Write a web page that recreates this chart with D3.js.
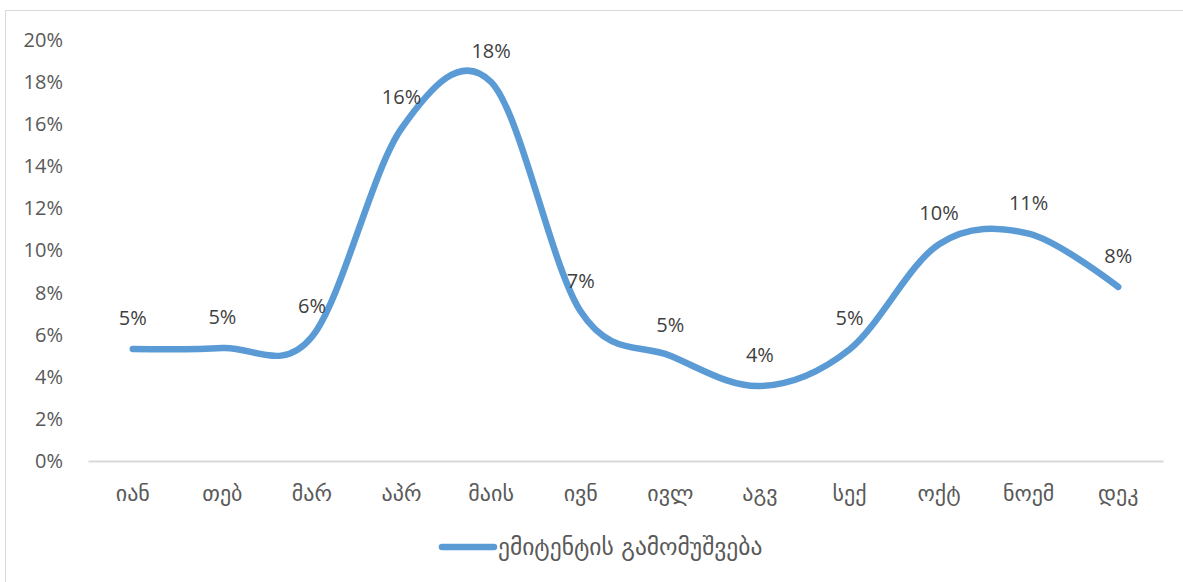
<!DOCTYPE html>
<html>
<head>
<meta charset="utf-8">
<script src="https://cdn.jsdelivr.net/npm/d3@7"></script>
<style>
  html, body { margin: 0; padding: 0; background: #fff; }
  svg { display: block; }
  text { font-family: "Open Sans", "DejaVu Sans", sans-serif; }
</style>
</head>
<body>
<svg id="chart" width="1183" height="582"></svg>
<script>
// Monthly output of the issuer, share per month
const months = ["იან", "თებ", "მარ", "აპრ", "მაის", "ივნ", "ივლ", "აგვ", "სექ", "ოქტ", "ნოემ", "დეკ"];
const values = [0.0532, 0.0537, 0.059, 0.158, 0.180, 0.071, 0.050, 0.0356, 0.053, 0.103, 0.108, 0.0827];
const yTicks = [0, 0.02, 0.04, 0.06, 0.08, 0.10, 0.12, 0.14, 0.16, 0.18, 0.20];
const seriesName = "ემიტენტის გამომუშვება";

const svg = d3.select("#chart");
const W = 1183, H = 582;
const plot = { left: 88, right: 1163, top: 40, bottom: 461 };

// Outer chart frame
svg.append("rect")
  .attr("x", 5.5).attr("y", 10.5)
  .attr("width", W + 10).attr("height", H + 10)
  .attr("fill", "#fff").attr("stroke", "#d9d9d9").attr("stroke-width", 1);

const x = d3.scaleBand().domain(months).range([plot.left, plot.right]);
const y = d3.scaleLinear().domain([0, 0.20]).range([plot.bottom, plot.top]);
const fmt = d3.format(".0%");

// Y axis labels (no line, no ticks)
const yAxis = svg.append("g")
  .attr("transform", `translate(${plot.left},0)`)
  .call(d3.axisLeft(y).tickValues(yTicks).tickFormat(fmt).tickSize(0).tickPadding(25));
yAxis.select(".domain").remove();
yAxis.selectAll("text")
  .attr("fill", "#595959").style("font-size", "20px")
  .style("font-family", "'Open Sans', 'DejaVu Sans', sans-serif");

// X axis: baseline plus category labels
const xAxis = svg.append("g")
  .attr("transform", `translate(0,${plot.bottom})`)
  .call(d3.axisBottom(x).tickSize(0).tickPadding(24));
xAxis.select(".domain").attr("stroke", "#d9d9d9").attr("stroke-width", 2);
xAxis.selectAll("text")
  .attr("fill", "#595959").style("font-size", "22px")
  .style("font-family", "'DejaVu Sans', sans-serif");

const pts = months.map((m, i) => [x(m) + x.bandwidth() / 2, y(values[i])]);

// Smoothed series line
svg.append("path")
  .datum(pts)
  .attr("fill", "none")
  .attr("stroke", "#5b9bd5")
  .attr("stroke-width", 6.5)
  .attr("stroke-linecap", "round")
  .attr("stroke-linejoin", "round")
  .attr("d", d3.line().curve(d3.curveCatmullRom.alpha(0)));

// Data labels above each point
svg.append("g").selectAll("text")
  .data(months)
  .join("text")
  .attr("x", (m) => x(m) + x.bandwidth() / 2)
  .attr("y", (m, i) => y(values[i]) - 24)
  .attr("text-anchor", "middle")
  .attr("fill", "#404040")
  .style("font-size", "20px")
  .text((m, i) => fmt(values[i]));

// Legend
const lg = svg.append("g");
lg.append("line")
  .attr("x1", 442).attr("x2", 494).attr("y1", 547).attr("y2", 547)
  .attr("stroke", "#5b9bd5").attr("stroke-width", 6.5).attr("stroke-linecap", "round");
lg.append("text")
  .attr("x", 498).attr("y", 555)
  .attr("fill", "#595959")
  .style("font-size", "23.5px")
  .style("font-family", "'DejaVu Sans', sans-serif")
  .text(seriesName);
</script>
</body>
</html>
